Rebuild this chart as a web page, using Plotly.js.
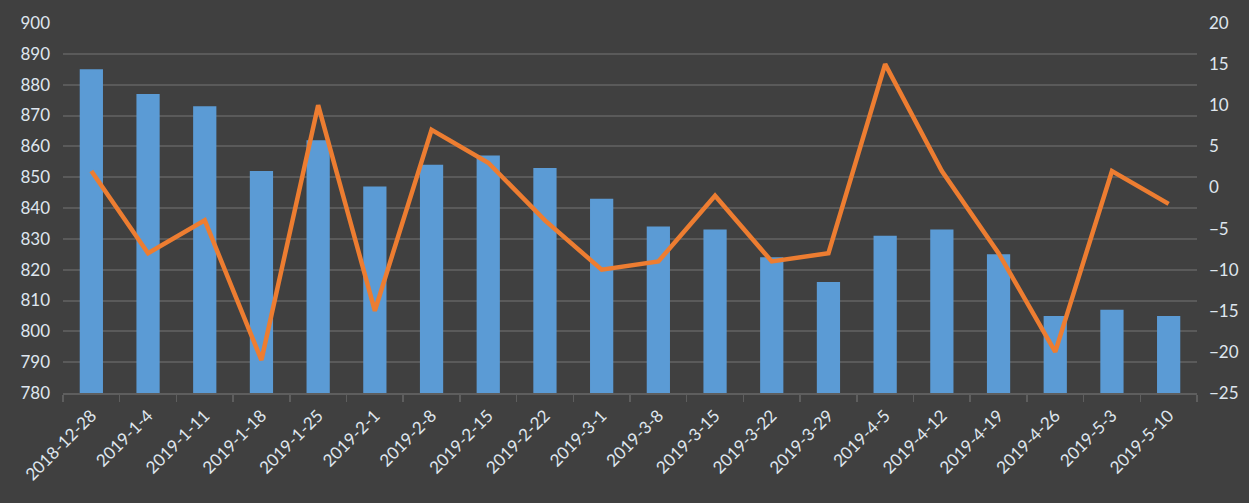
<!DOCTYPE html>
<html>
<head>
<meta charset="utf-8">
<script src="https://cdn.plot.ly/plotly-3.0.1.min.js"></script>
<style>
html,body{margin:0;padding:0;background:#404040;}
#chart{width:1249px;height:503px;}
</style>
</head>
<body>
<div id="chart"></div>
<script>
var categories = ["2018-12-28","2019-1-4","2019-1-11","2019-1-18","2019-1-25","2019-2-1","2019-2-8","2019-2-15","2019-2-22","2019-3-1","2019-3-8","2019-3-15","2019-3-22","2019-3-29","2019-4-5","2019-4-12","2019-4-19","2019-4-26","2019-5-3","2019-5-10"];
var barValues = [885,877,873,852,862,847,854,857,853,843,834,833,824,816,831,833,825,805,807,805];
var lineValues = [2,-8,-4,-21,10,-15,7,3,-4,-10,-9,-1,-9,-8,15,2,-8,-20,2,-2];

var textColor = "#dfe6ee";
var fontFam = "Lato, 'Open Sans', sans-serif";

var traces = [
  {
    type: "bar",
    x: categories,
    y: barValues,
    marker: {color: "#5b9bd5", line: {width: 0}},
    yaxis: "y",
    hoverinfo: "x+y"
  },
  {
    type: "scatter",
    mode: "lines",
    x: categories,
    y: lineValues,
    yaxis: "y2",
    line: {color: "#ed7d31", width: 4.5, shape: "linear"},
    hoverinfo: "x+y"
  }
];

var layout = {
  width: 1249,
  height: 503,
  paper_bgcolor: "#404040",
  plot_bgcolor: "#404040",
  margin: {l: 63, r: 52, t: 23, b: 110},
  showlegend: false,
  bargap: 0.59,
  font: {family: fontFam, size: 17, color: textColor},
  xaxis: {
    type: "category",
    tickangle: -45,
    showgrid: false,
    showline: true,
    linecolor: "#5e5e5e",
    linewidth: 2,
    ticks: "outside",
    tickson: "boundaries",
    ticklen: 7,
    tickcolor: "#5e5e5e",
    tickwidth: 1.5,
    ticklabelstandoff: 4,
    tickfont: {family: fontFam, size: 17, color: textColor},
    zeroline: false
  },
  yaxis: {
    range: [780, 900],
    dtick: 10,
    tick0: 780,
    showgrid: true,
    gridcolor: "#5a5a5a",
    gridwidth: 2,
    zeroline: false,
    showline: false,
    ticks: "",
    ticklabelstandoff: 12,
    tickfont: {family: fontFam, size: 17, color: textColor}
  },
  yaxis2: {
    overlaying: "y",
    side: "right",
    range: [-25, 20],
    dtick: 5,
    tick0: -25,
    showgrid: false,
    zeroline: false,
    showline: false,
    ticks: "",
    ticklabelstandoff: 11,
    tickfont: {family: fontFam, size: 17, color: textColor}
  }
};

Plotly.newPlot("chart", traces, layout, {displayModeBar: false, staticPlot: true});
</script>
</body>
</html>
